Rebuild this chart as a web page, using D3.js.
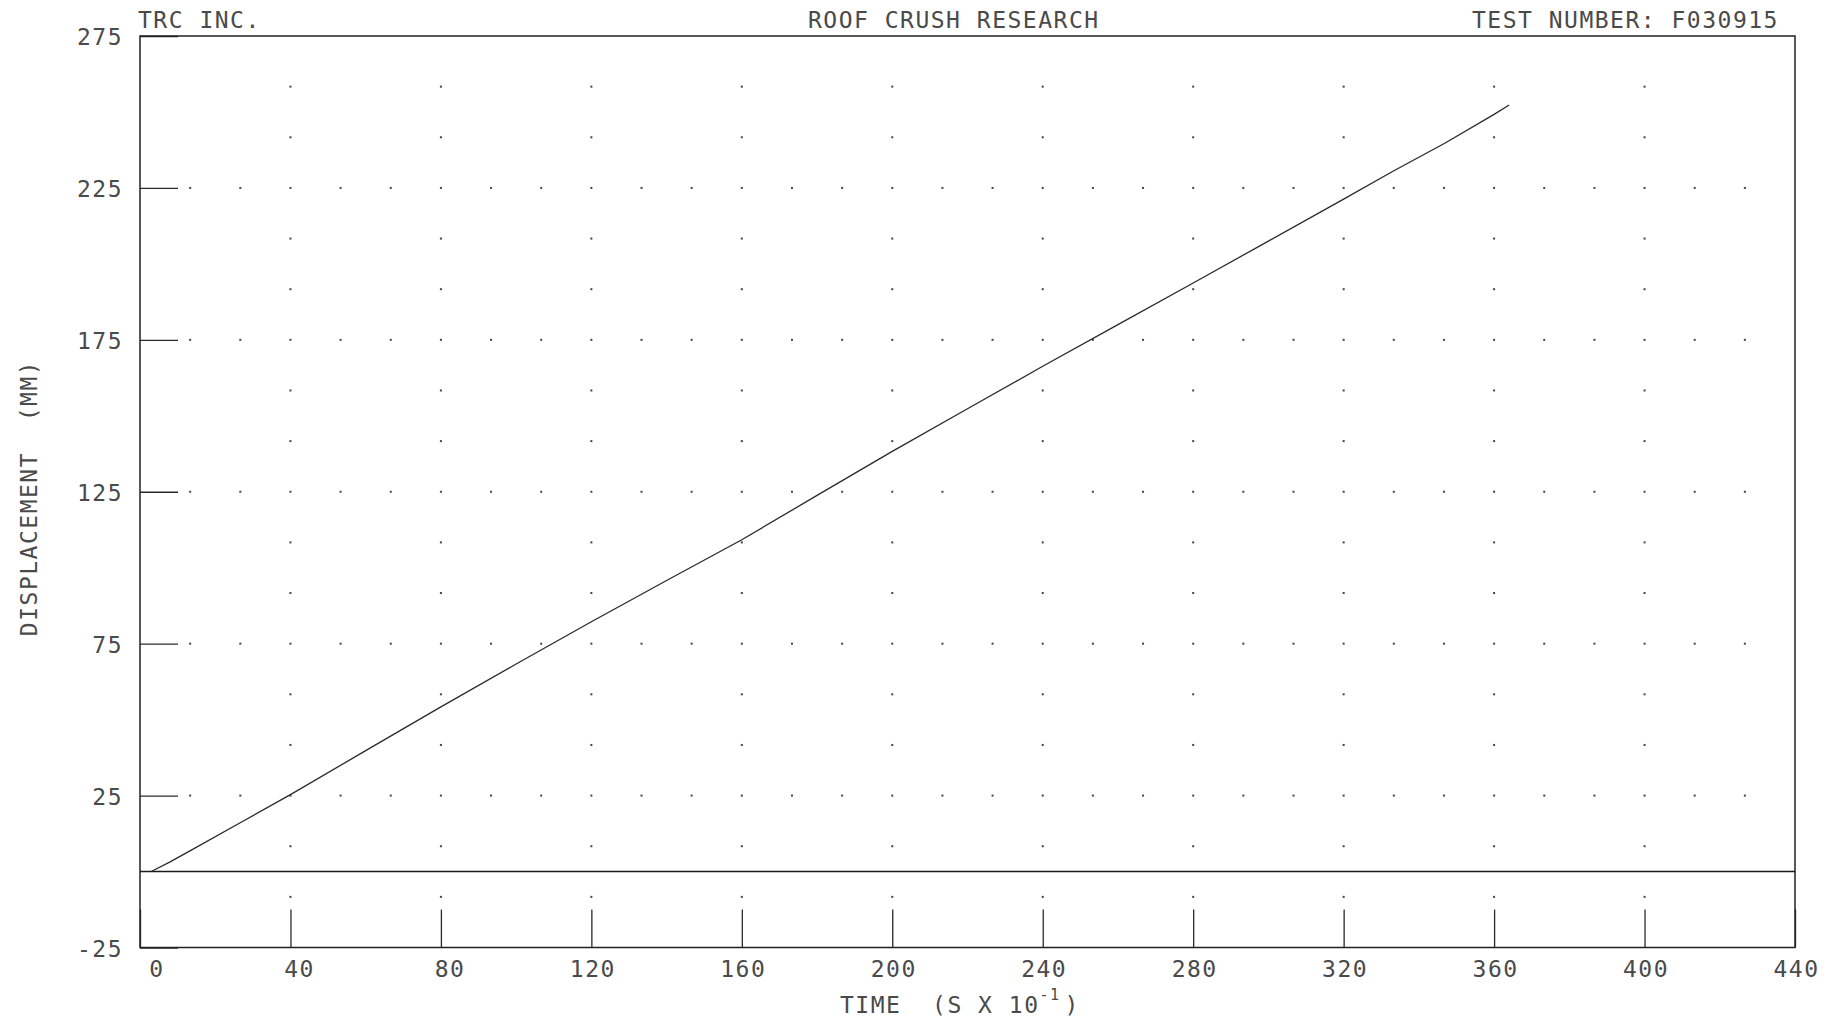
<!DOCTYPE html>
<html lang="en">
<head>
<meta charset="UTF-8"/>
<title>Roof Crush Research - Displacement vs Time</title>
<script src="https://d3js.org/d3.v7.min.js"></script>
<style>
    body { margin: 0; background: #fff; }
    text { font-family: "DejaVu Sans Mono", monospace; fill: #4a4a4a; }
</style>
</head>
<body>
<script>
// time (S x 10^-1) and displacement (mm)
var timeValues = [3, 8, 14, 27, 40, 60, 80, 100, 120, 140, 160, 180, 200, 220, 240, 260, 280, 300, 320, 333, 347, 360, 364];
var displacementValues = [0, 3.2, 7.3, 16.3, 25.3, 39.8, 54.2, 68.3, 82.2, 95.8, 109.2, 123.8, 138.3, 152.3, 166.3, 180, 193.7, 207.5, 221.3, 230.4, 239.8, 249.2, 252.3];

var xTickValues = [0, 40, 80, 120, 160, 200, 240, 280, 320, 360, 400, 440];
var yTickValues = [-25, 25, 75, 125, 175, 225, 275];

// grid lines that carry dots, each split in three
var xGridLines = [40, 80, 120, 160, 200, 240, 280, 320, 360, 400];
var yGridLines = [25, 75, 125, 175, 225];
var gridSplit = 3;

var w = 1843;
var h = 1019;
var plotLeft = 140, plotRight = 1795, plotTop = 36, plotBottom = 947.5;
var tickLen = 38;

var xScale = d3.scaleLinear().domain([0, 440]).range([plotLeft, plotRight]);
var yScale = d3.scaleLinear().domain([-25, 275]).range([plotBottom, plotTop]);

var svg = d3.select("body")
    .append("svg")
    .attr("width", w)
    .attr("height", h);

/* dots along the grid lines */
var xStep = 40 / gridSplit, yStep = 50 / gridSplit;
var dots = [];
yGridLines.forEach(function(yv) {
    for (var k = 1; k * xStep < 440 - 0.01; k++) dots.push([k * xStep, yv]);
});
xGridLines.forEach(function(xv) {
    for (var k = 1; -25 + k * yStep < 275 - 0.01; k++) {
        var yv = -25 + k * yStep;
        if (yGridLines.indexOf(Math.round(yv * 100) / 100) < 0) dots.push([xv, yv]);
    }
});

svg.append("g")
    .selectAll("rect")
    .data(dots)
    .enter()
    .append("rect")
    .attr("x", function(d) { return xScale(d[0]) - 1; })
    .attr("y", function(d) { return yScale(d[1]) - 1; })
    .attr("width", 2)
    .attr("height", 2)
    .attr("fill", "#444");

/* axes */
var xAxis = d3.axisBottom(xScale)
    .tickValues(xTickValues)
    .tickSizeInner(-tickLen)
    .tickSizeOuter(0)
    .tickFormat(function(d) { return String(d); });

var gx = svg.append("g")
    .attr("transform", "translate(0," + plotBottom + ")")
    .call(xAxis);
gx.select(".domain").remove();
gx.attr("font-family", null).attr("font-size", null).style("color", "#2a2a2a");
gx.selectAll("line").attr("stroke-width", 1.3);
gx.selectAll("text")
    .attr("y", 29.5)
    .attr("dy", 0)
    .attr("dx", 24)
    .attr("text-anchor", "end")
    .attr("font-size", 23)
    .attr("letter-spacing", 1.5);

var yAxis = d3.axisLeft(yScale)
    .tickValues(yTickValues)
    .tickSizeInner(-tickLen)
    .tickSizeOuter(0)
    .tickPadding(17)
    .tickFormat(function(d) { return String(d); });

var gy = svg.append("g")
    .attr("transform", "translate(" + plotLeft + ",0)")
    .call(yAxis);
gy.select(".domain").remove();
gy.attr("font-family", null).attr("font-size", null).style("color", "#2a2a2a");
gy.selectAll("line").attr("stroke-width", 1.3);
gy.selectAll("text")
    .attr("dy", "0.37em")
    .attr("font-size", 23)
    .attr("letter-spacing", 1.5);

/* frame */
svg.append("rect")
    .attr("x", plotLeft)
    .attr("y", plotTop)
    .attr("width", plotRight - plotLeft)
    .attr("height", plotBottom - plotTop)
    .attr("fill", "none")
    .attr("stroke", "#222")
    .attr("stroke-width", 1.5);

/* zero line */
svg.append("line")
    .attr("x1", xScale(0))
    .attr("x2", xScale(440))
    .attr("y1", yScale(0))
    .attr("y2", yScale(0))
    .attr("stroke", "#1a1a1a")
    .attr("stroke-width", 1.6);

/* the displacement curve */
var line = d3.line()
    .x(function(d, i) { return xScale(timeValues[i]); })
    .y(function(d) { return yScale(d); });

svg.append("path")
    .datum(displacementValues)
    .attr("d", line)
    .attr("fill", "none")
    .attr("stroke", "#2a2a2a")
    .attr("stroke-width", 1.3);

/* header texts */
function label(x, y, s) {
    return svg.append("text")
        .attr("x", x)
        .attr("y", y)
        .attr("font-size", 23)
        .attr("letter-spacing", 1.5)
        .style("white-space", "pre")
        .text(s);
}
label(138, 28, "TRC INC.");
label(808, 28, "ROOF CRUSH RESEARCH");
label(1472, 28, "TEST NUMBER: F030915");

/* axis titles */
var xt = svg.append("text")
    .attr("x", 840)
    .attr("y", 1013)
    .attr("font-size", 23)
    .attr("letter-spacing", 1.5)
    .style("white-space", "pre");
xt.append("tspan").text("TIME  (S X 10");
xt.append("tspan").attr("dy", -13).attr("font-size", 15).text("-1");
xt.append("tspan").attr("dy", 13).attr("dx", 4).text(")");

svg.append("text")
    .attr("transform", "translate(37,498) rotate(-90)")
    .attr("text-anchor", "middle")
    .attr("font-size", 23)
    .attr("letter-spacing", 1.5)
    .style("white-space", "pre")
    .text("DISPLACEMENT  (MM)");
</script>
</body>
</html>
